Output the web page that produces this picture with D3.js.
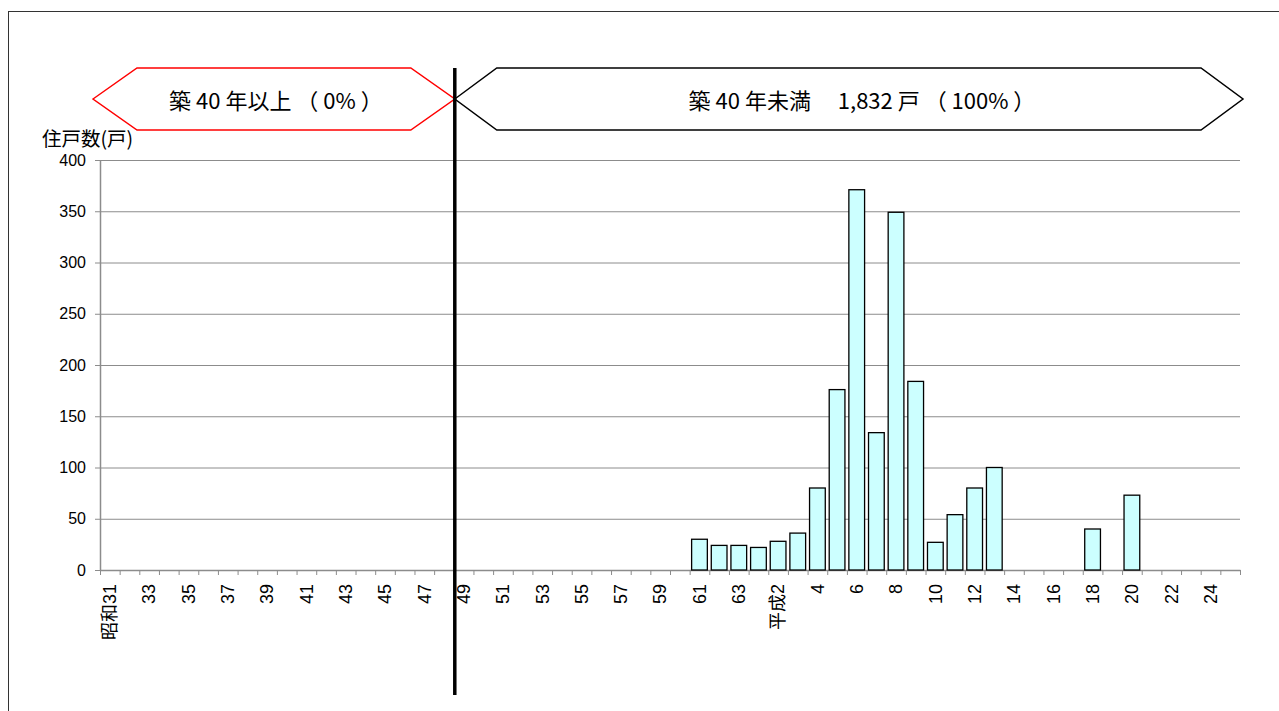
<!DOCTYPE html>
<html>
<head>
<meta charset="utf-8">
<script src="https://cdn.jsdelivr.net/npm/d3@7"></script>
<style>
body { margin: 0; background: #fff; }
svg { display: block; font-family: "Liberation Sans", "Noto Sans CJK JP", sans-serif; }
</style>
</head>
<body>
<script>
// construction year categories (昭和31 .. 平成25)
var categories = ["昭和31","32","33","34","35","36","37","38","39","40",
	"41","42","43","44","45","46","47","48","49","50",
	"51","52","53","54","55","56","57","58","59","60",
	"61","62","63","平成元","平成2","3","4","5","6","7",
	"8","9","10","11","12","13","14","15","16","17",
	"18","19","20","21","22","23","24","25"];
// number of dwellings per year
var counts = [0,0,0,0,0,0,0,0,0,0,
	0,0,0,0,0,0,0,0,0,0,
	0,0,0,0,0,0,0,0,0,0,
	30,24,24,22,28,36,80,176,371,134,
	349,184,27,54,80,100,0,0,0,0,
	40,0,73,0,0,0,0,0];
var yTicks = [0,50,100,150,200,250,300,350,400];
var yTitle = "住戸数(戸)";
var bannerOld = "築 40 年以上 （ 0% ）";
var bannerNew = "築 40 年未満　 1,832 戸 （ 100% ）";
var splitIndex = 18; // first category of 築40年未満 (昭和49)

function drawChart(){
	var width = 1279, height = 711;
	var plotL = 100, plotR = 1240, plotT = 160, plotB = 570;

	var svg = d3.select("body").append("svg")
		.attr("width", width)
		.attr("height", height);

	// outer frame
	svg.append("rect")
		.attr("x", 8.5).attr("y", 11.5)
		.attr("width", 1300).attr("height", 800)
		.attr("fill", "none")
		.attr("stroke", "#333")
		.attr("stroke-width", 1);

	var x = d3.scaleBand()
		.domain(d3.range(categories.length))
		.range([plotL, plotR])
		.padding(0);
	var xb = d3.scaleLinear()
		.domain([0, categories.length])
		.range([plotL, plotR]);
	var y = d3.scaleLinear()
		.domain([0, 400])
		.range([plotB, plotT]);

	// grid lines
	svg.append("g")
		.attr("transform", "translate(" + plotL + ",0)")
		.call(d3.axisLeft(y).tickValues(yTicks.slice(1)).tickSize(-(plotR - plotL)).tickFormat(""))
		.call(function(g){ g.select(".domain").remove(); })
		.selectAll("line")
		.attr("stroke", "#8c8c8c");

	// y axis
	var gy = svg.append("g")
		.attr("transform", "translate(" + plotL + ",0)")
		.call(d3.axisLeft(y).tickValues(yTicks).tickSize(5).tickPadding(9).tickSizeOuter(0));
	gy.select(".domain").attr("stroke", "#8c8c8c").attr("stroke-width", 1.5);
	gy.selectAll("line").attr("stroke", "#8c8c8c");
	gy.selectAll("text")
		.attr("font-size", 16)
		.attr("fill", "#000")
		.attr("font-family", "'Liberation Sans Narrow','Liberation Sans',sans-serif");

	// x axis ticks at the category boundaries
	var gx = svg.append("g")
		.attr("transform", "translate(0," + plotB + ")")
		.call(d3.axisBottom(xb).tickValues(d3.range(categories.length + 1)).tickSize(5).tickFormat("").tickSizeOuter(0));
	gx.select(".domain").attr("stroke", "#8c8c8c").attr("stroke-width", 1.5);
	gx.selectAll("line").attr("stroke", "#8c8c8c");

	// x labels, every other year
	var gl = svg.append("g")
		.attr("transform", "translate(0," + plotB + ")")
		.call(d3.axisBottom(x)
			.tickValues(d3.range(0, categories.length, 2))
			.tickSize(0)
			.tickFormat(function(i){ return categories[i]; }));
	gl.select(".domain").remove();
	gl.selectAll("text")
		.attr("font-size", 18)
		.attr("fill", "#000")
		.attr("font-family", "'Liberation Sans Narrow','Liberation Sans','Noto Sans CJK JP',sans-serif")
		.attr("text-anchor", "end")
		.attr("transform", "rotate(-90)")
		.attr("x", -14)
		.attr("y", 0)
		.attr("dy", "0.35em");

	// bars
	var bw = x.bandwidth();
	svg.append("g").selectAll("rect")
		.data(counts.map(function(v, i){ return {i: i, v: v}; }).filter(function(d){ return d.v > 0; }))
		.enter().append("rect")
		.attr("x", function(d){ return x(d.i) + bw * 0.1; })
		.attr("y", function(d){ return y(d.v); })
		.attr("width", bw * 0.8)
		.attr("height", function(d){ return y(0) - y(d.v); })
		.attr("fill", "#ccffff")
		.attr("stroke", "#000")
		.attr("stroke-width", 1.3);

	// y title
	svg.append("text")
		.attr("x", 42).attr("y", 146)
		.attr("font-size", 19.5)
		.attr("font-family", "'Noto Sans CJK JP',sans-serif")
		.text(yTitle);

	// divider and banners
	var splitX = xb(splitIndex) + 1;
	var bTop = 68, bBot = 130, bMid = 99;

	function hexagon(x0, x1, inset){
		return [[x0, bMid], [x0 + inset, bTop], [x1 - inset, bTop], [x1, bMid], [x1 - inset, bBot], [x0 + inset, bBot]];
	}
	var line = d3.line();

	svg.append("path")
		.attr("d", line(hexagon(93, splitX, 44)) + "Z")
		.attr("fill", "#fff")
		.attr("stroke", "#ff0000")
		.attr("stroke-width", 1.5);
	svg.append("path")
		.attr("d", line(hexagon(splitX, 1243, 42)) + "Z")
		.attr("fill", "#fff")
		.attr("stroke", "#000")
		.attr("stroke-width", 1.5);

	svg.append("text")
		.attr("x", (93 + splitX) / 2 + 2)
		.attr("y", 109)
		.attr("text-anchor", "middle")
		.attr("font-size", 22)
		.attr("font-family", "'Noto Sans CJK JP',sans-serif")
		.text(bannerOld);
	svg.append("text")
		.attr("x", 862)
		.attr("y", 109)
		.attr("text-anchor", "middle")
		.attr("font-size", 22)
		.attr("font-family", "'Noto Sans CJK JP',sans-serif")
		.text(bannerNew);

	svg.append("line")
		.attr("x1", splitX).attr("x2", splitX)
		.attr("y1", 68).attr("y2", 695)
		.attr("stroke", "#000")
		.attr("stroke-width", 3.5);
}

drawChart();
</script>
</body>
</html>
